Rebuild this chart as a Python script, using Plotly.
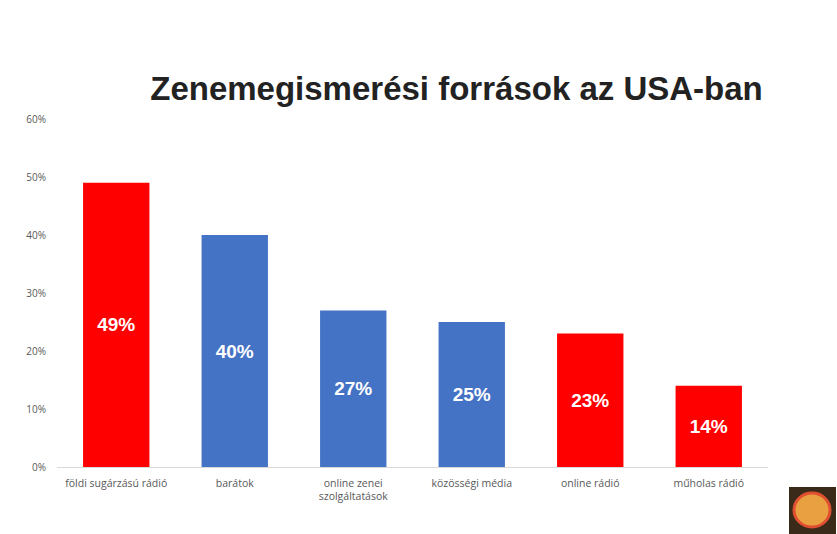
import plotly.graph_objects as go

categories = ["földi sugárzású rádió", "barátok", "online zenei<br>szolgáltatások",
              "közösségi média", "online rádió", "műholas rádió"]
values = [0.49, 0.40, 0.27, 0.25, 0.23, 0.14]
bar_colors = ["#FF0000", "#4472C4", "#4472C4", "#4472C4", "#FF0000", "#FF0000"]
labels = [f"{round(v*100)}%" for v in values]
title_text = "Zenemegismerési források az USA-ban"

fig = go.Figure(go.Bar(
    x=categories, y=values, marker_color=bar_colors, marker_line_width=0,
    width=0.56, text=labels, textposition="inside", insidetextanchor="middle",
    textangle=0,
    textfont=dict(family="Liberation Sans, Arial", size=19, color="white", weight="bold"),
))

fig.update_layout(
    width=837, height=534,
    margin=dict(l=57, r=69, t=119, b=67),
    paper_bgcolor="white", plot_bgcolor="white",
    showlegend=False,
    title=dict(text=title_text, x=456.5/837, xanchor="center", xref="container",
               y=1 - 88/534, yanchor="middle", yref="container",
               font=dict(family="Liberation Sans, Arial", size=33, color="#222222", weight="bold")),
    xaxis=dict(showgrid=False, showline=True, linecolor="#D9D9D9", linewidth=1,
               ticks="", tickfont=dict(family="Open Sans, Noto Sans", size=10.5, color="#595959"),
               ticklabelstandoff=6),
    yaxis=dict(range=[0, 0.6], dtick=0.1, tickformat=".0%", showgrid=False,
               zeroline=False, showline=False,
               tickfont=dict(family="Open Sans, Noto Sans", size=10, color="#595959"),
               ticklabelstandoff=10),
)

# small logo badge in the corner
fig.add_shape(type="rect", xref="paper", yref="paper",
              x0=(789-57)/711, x1=(836-57)/711, y0=-67/348, y1=-20/348,
              fillcolor="#3a2a1a", line_width=0)
fig.add_shape(type="circle", xref="paper", yref="paper",
              x0=(794-57)/711, x1=(830-57)/711, y0=-60/348, y1=-26/348,
              fillcolor="#e8a040", line=dict(color="#e05030", width=3))

fig.write_html("out.html")
